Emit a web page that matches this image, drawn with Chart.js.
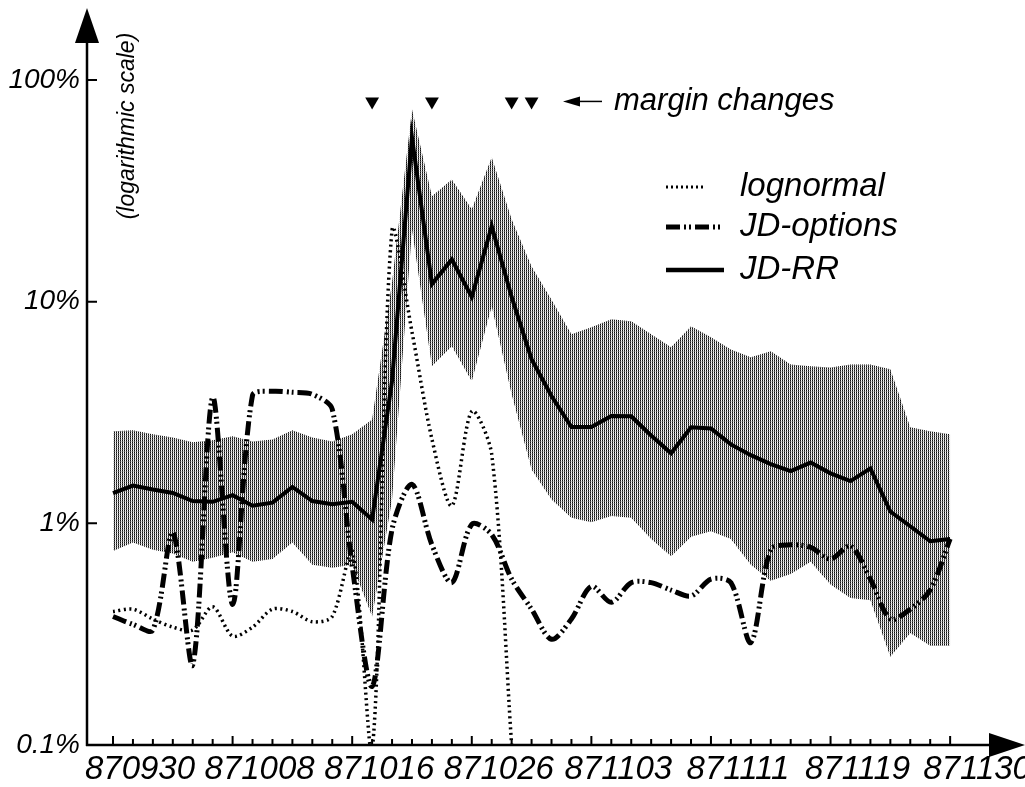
<!DOCTYPE html>
<html lang="en">
<head>
<meta charset="UTF-8">
<title>Margin estimates 870930 - 871130</title>
<script src="https://cdn.jsdelivr.net/npm/chart.js@4"></script>
<style>
  * { margin: 0; padding: 0; box-sizing: border-box; }
  body { background: #fff; }
  .wrap { width: 1025px; height: 787px; position: relative; }
</style>
</head>
<body>
<div class="wrap"><canvas id="chart"></canvas></div>
<script>
// trading days, 30 Sep 1987 .. 30 Nov 1987
const dates = [
  '870930', '871001', '871002', '871005', '871006', '871007', '871008', '871009', '871012', '871013',
  '871014', '871015', '871016', '871019', '871020', '871021', '871022', '871023', '871026', '871027',
  '871028', '871029', '871030', '871102', '871103', '871104', '871105', '871106', '871109', '871110',
  '871111', '871112', '871113', '871116', '871117', '871118', '871119', '871120', '871123', '871124',
  '871125', '871127', '871130'
];
const tickDates = ['870930', '871008', '871016', '871026', '871103', '871111', '871119', '871130'];
const marginChanges = ['871019', '871022', '871028', '871029'];
const yTicks = [0.1, 1, 10, 100];

// values in percent
const lognormal = [
  0.40, 0.41, 0.37, 0.34, 0.33, 0.42, 0.31, 0.34, 0.41, 0.40,
  0.36, 0.38, 0.75, 0.095, 21, 7.3, 2.4, 1.2, 3.2, 2.05,
  0.1, null, null, null, null, null, null, null, null, null,
  null, null, null, null, null, null, null, null, null, null,
  null, null, null
];
const jdOptions = [
  0.38, 0.35, 0.33, 0.91, 0.23, 3.7, 0.43, 3.78, 3.94, 3.9,
  3.82, 3.27, 0.64, 0.184, 0.94, 1.5, 0.80, 0.54, 0.99, 0.89,
  0.56, 0.41, 0.30, 0.37, 0.52, 0.44, 0.54, 0.54, 0.50, 0.47,
  0.56, 0.54, 0.29, 0.76, 0.80, 0.78, 0.69, 0.79, 0.56, 0.37,
  0.41, 0.50, 0.85
];
const jdRR = [
  1.37, 1.48, 1.42, 1.37, 1.26, 1.25, 1.34, 1.20, 1.24, 1.46,
  1.26, 1.22, 1.25, 1.04, 4.4, 55, 12.0, 15.5, 10.5, 21.9,
  10.5, 5.5, 3.75, 2.72, 2.72, 3.05, 3.04, 2.49, 2.07, 2.71,
  2.68, 2.27, 2.03, 1.85, 1.72, 1.88, 1.68, 1.55, 1.77, 1.13,
  0.97, 0.83, 0.85
];
const bandHigh = [
  2.60, 2.63, 2.52, 2.44, 2.32, 2.37, 2.47, 2.34, 2.39, 2.63,
  2.44, 2.34, 2.52, 2.94, 12.2, 73.7, 29.9, 35.6, 26.1, 44.8,
  23.5, 14.4, 10.2, 7.12, 7.66, 8.32, 8.15, 7.12, 6.22, 7.74,
  6.90, 6.09, 5.61, 5.97, 5.21, 5.11, 5.05, 5.21, 5.21, 4.95,
  2.71, 2.60, 2.52
];
const bandLow = [
  0.75, 0.82, 0.76, 0.73, 0.67, 0.70, 0.74, 0.67, 0.69, 0.82,
  0.65, 0.63, 0.65, 0.38, 1.28, 21.2, 5.11, 6.29, 4.37, 9.53,
  3.82, 1.75, 1.28, 1.06, 1.01, 1.08, 1.06, 0.85, 0.71, 0.87,
  0.92, 0.85, 0.65, 0.55, 0.59, 0.67, 0.53, 0.46, 0.45, 0.25,
  0.32, 0.28, 0.28
];
const markerLevel = 80;

const FONT = "'Liberation Sans', Arial, Helvetica, sans-serif";

function xy(arr) {
  return arr.map((v, i) => ({ x: i, y: v }));
}

// halftone-ish fill for the band
function bandPattern() {
  const c = document.createElement('canvas');
  c.width = 2; c.height = 2;
  const g = c.getContext('2d');
  g.fillStyle = '#fff'; g.fillRect(0, 0, 2, 2);
  g.fillStyle = '#111'; g.fillRect(0, 0, 1, 1);
  g.fillStyle = '#555'; g.fillRect(0, 1, 1, 1);
  g.fillStyle = '#d0d0d0'; g.fillRect(1, 1, 1, 1);
  return g.createPattern(c, 'repeat');
}

const decor = {
  id: 'decor',
  afterDraw(chart) {
    const { ctx, chartArea: a, scales: { x, y } } = chart;
    ctx.save();
    ctx.strokeStyle = '#000';
    ctx.fillStyle = '#000';

    // axes with arrows
    ctx.lineWidth = 2.5;
    ctx.beginPath();
    ctx.moveTo(a.left, a.bottom + 1); ctx.lineTo(a.left, 30);
    ctx.moveTo(a.left - 1, a.bottom); ctx.lineTo(1000, a.bottom);
    ctx.stroke();
    ctx.beginPath();
    ctx.moveTo(a.left, 8); ctx.lineTo(a.left - 12, 43); ctx.lineTo(a.left + 12, 43);
    ctx.closePath(); ctx.fill();
    ctx.beginPath();
    ctx.moveTo(1025, a.bottom); ctx.lineTo(989, a.bottom - 12); ctx.lineTo(989, a.bottom + 12);
    ctx.closePath(); ctx.fill();

    // tick marks (inside)
    ctx.lineWidth = 2;
    ctx.beginPath();
    dates.forEach((d, i) => {
      const px = x.getPixelForValue(i);
      const len = tickDates.includes(d) ? 9 : 6;
      ctx.moveTo(px, a.bottom); ctx.lineTo(px, a.bottom - len);
    });
    yTicks.slice(1).forEach(v => {
      const py = y.getPixelForValue(v);
      ctx.moveTo(a.left, py); ctx.lineTo(a.left + 10, py);
    });
    ctx.stroke();

    // rotated axis note
    ctx.save();
    ctx.translate(128, 126);
    ctx.rotate(-Math.PI / 2);
    ctx.font = 'italic 23px ' + FONT;
    ctx.textAlign = 'center';
    ctx.textBaseline = 'middle';
    ctx.fillText('(logarithmic scale)', 0, 0);
    ctx.restore();

    // margin changes note
    const my = y.getPixelForValue(markerLevel);
    ctx.lineWidth = 1.5;
    ctx.beginPath(); ctx.moveTo(602, my); ctx.lineTo(576, my); ctx.stroke();
    ctx.beginPath();
    ctx.moveTo(563, my); ctx.lineTo(580, my - 5); ctx.lineTo(580, my + 5);
    ctx.closePath(); ctx.fill();
    ctx.font = 'italic 31px ' + FONT;
    ctx.textAlign = 'left';
    ctx.textBaseline = 'middle';
    ctx.fillText('margin changes', 614, my);

    // legend
    const items = [
      { label: 'lognormal', width: 3, dash: [2, 3], y: 187, x1: 706 },
      { label: 'JD-options', width: 5, dash: [14, 4, 2, 3, 2, 4], y: 227, x1: 722 },
      { label: 'JD-RR', width: 4.5, dash: [], y: 270, x1: 724 }
    ];
    ctx.font = 'italic 33px ' + FONT;
    items.forEach(it => {
      ctx.lineWidth = it.width;
      ctx.setLineDash(it.dash);
      ctx.beginPath(); ctx.moveTo(666, it.y); ctx.lineTo(it.x1, it.y); ctx.stroke();
      ctx.setLineDash([]);
      ctx.fillText(it.label, 740, it.y);
    });
    ctx.restore();
  }
};

new Chart(document.getElementById('chart'), {
  type: 'line',
  data: {
    datasets: [
      {
        label: 'lognormal',
        data: xy(lognormal),
        borderColor: '#000',
        borderWidth: 3.5,
        borderDash: [2, 3.5],
        tension: 0.3,
        pointRadius: 0,
        fill: false
      },
      {
        label: 'JD-options',
        data: xy(jdOptions),
        borderColor: '#000',
        borderWidth: 5,
        borderDash: [14, 4, 2, 3, 2, 4],
        tension: 0.3,
        pointRadius: 0,
        fill: false
      },
      {
        label: 'JD-RR',
        data: xy(jdRR),
        borderColor: '#000',
        borderWidth: 4,
        tension: 0,
        pointRadius: 0,
        fill: false
      },
      {
        label: 'margin changes',
        data: marginChanges.map(d => ({ x: dates.indexOf(d), y: markerLevel })),
        showLine: false,
        pointStyle: 'triangle',
        rotation: 180,
        pointRadius: 8,
        backgroundColor: '#000',
        borderColor: '#000',
        borderWidth: 0
      },
      {
        label: 'band low',
        data: xy(bandLow),
        borderWidth: 0,
        borderColor: 'rgba(0,0,0,0)',
        pointRadius: 0,
        tension: 0,
        fill: false
      },
      {
        label: 'band high',
        data: xy(bandHigh),
        borderWidth: 0,
        borderColor: 'rgba(0,0,0,0)',
        backgroundColor: bandPattern(),
        pointRadius: 0,
        tension: 0,
        fill: '-1'
      }
    ]
  },
  options: {
    responsive: true,
    maintainAspectRatio: false,
    animation: false,
    layout: { padding: { top: 30, right: 35, left: 0, bottom: 0 } },
    plugins: {
      legend: { display: false },
      tooltip: { enabled: false }
    },
    scales: {
      x: {
        type: 'linear',
        min: -1.305,
        max: 44.0,
        grid: { display: false, drawTicks: false },
        border: { display: false },
        afterFit(scale) { scale.height = 42; },
        afterBuildTicks(scale) {
          scale.ticks = tickDates.map(d => ({ value: dates.indexOf(d) }));
        },
        ticks: {
          autoSkip: false,
          maxRotation: 0,
          padding: 5,
          labelOffset: 27,
          color: '#000',
          font: { family: FONT, size: 33, style: 'italic' },
          callback: v => dates[v]
        }
      },
      y: {
        type: 'logarithmic',
        min: 0.1,
        max: 168,
        grid: { display: false, drawTicks: false },
        border: { display: false },
        afterFit(scale) { scale.width = 87; },
        afterBuildTicks(scale) {
          scale.ticks = yTicks.map(v => ({ value: v }));
        },
        ticks: {
          padding: 7,
          color: '#000',
          font: { family: FONT, size: 28, style: 'italic' },
          callback: v => v + '%'
        }
      }
    }
  },
  plugins: [decor]
});
</script>
</body>
</html>
